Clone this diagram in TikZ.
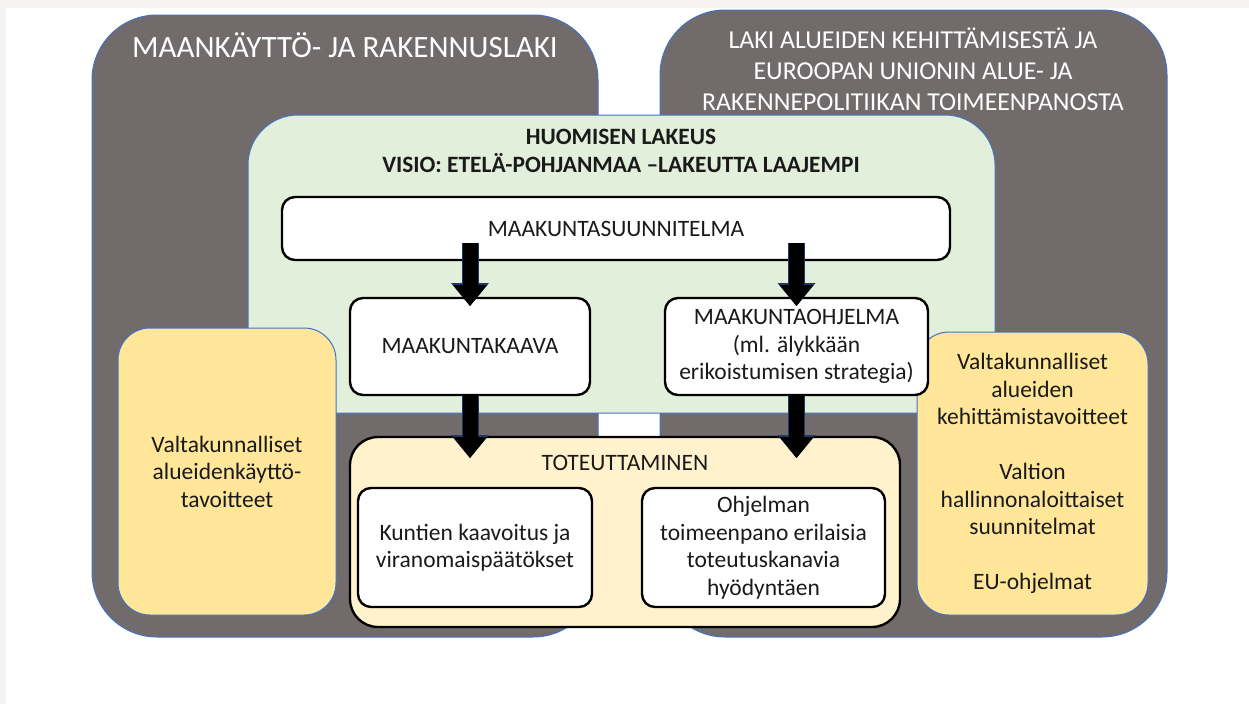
\documentclass[tikz,border=0pt]{standalone}
\usepackage{fontspec}
\setmainfont{Carlito}
\usetikzlibrary{arrows.meta}
\definecolor{lawgray}{HTML}{716C6B}
\definecolor{edgeblue}{HTML}{4472C4}
\definecolor{visiogreen}{HTML}{E2EFDA}
\definecolor{goalyellow}{HTML}{FFE699}
\definecolor{implyellow}{HTML}{FFF2CC}
\definecolor{pagestrip}{HTML}{F4F3F1}
\definecolor{arrownavy}{HTML}{1F3864}
\definecolor{textdark}{HTML}{1A1A1A}
\tikzset{
  boxbase/.style={inner sep=0pt, outer sep=0pt, align=center, text=textdark,
    font=\fontsize{23.5}{27.5}\selectfont},
  lawbox/.style={boxbase, draw=edgeblue, line width=1pt, fill=lawgray, rounded corners=65pt},
  visiobox/.style={boxbase, draw=edgeblue, line width=1pt, fill=visiogreen, rounded corners=50pt},
  goalbox/.style={boxbase, draw=edgeblue, line width=1pt, fill=goalyellow, rounded corners=32pt},
  whitebox/.style={boxbase, draw=black, line width=2.4pt, fill=white, rounded corners=13pt},
  implbox/.style={boxbase, draw=black, line width=2.4pt, fill=implyellow, rounded corners=28pt},
  lawtitle/.style={inner sep=0pt, text=white, align=center},
  plaintext/.style={inner sep=0pt, align=center, text=textdark, font=\fontsize{23.5}{27.5}\selectfont},
  bigarrow/.style={draw=black, line width=15pt,
    -{Triangle[width=34pt,length=21pt,line width=0pt]},
    preaction={draw=arrownavy, line width=17pt, -{Triangle[width=38pt,length=23pt,line width=0pt]}}},
}
\begin{document}
\begin{tikzpicture}[x=1pt,y=-1pt]
\useasboundingbox (0,0) rectangle (1249,704);
\fill[white] (0,0) rectangle (1249,704);
\fill[pagestrip] (0,0) rectangle (1249,8);
\fill[pagestrip] (0,0) rectangle (6,704);

% law containers
\node[lawbox, minimum width=506pt, minimum height=622pt] (mrl) at (345,326) {};
\node[lawbox, minimum width=507pt, minimum height=627pt] (eulaw) at (913.5,323.5) {};
\node[lawtitle, anchor=west, font=\fontsize{31}{36}\selectfont] (mrltitle) at (132,45) {MAANKÄYTTÖ- JA RAKENNUSLAKI};
\node[lawtitle, font=\fontsize{25.8}{31}\selectfont] (eulawtitle) at (913,69)
  {LAKI ALUEIDEN KEHITTÄMISESTÄ JA\\EUROOPAN UNIONIN ALUE- JA\\RAKENNEPOLITIIKAN TOIMEENPANOSTA};

% vision box
\node[visiobox, minimum width=747pt, minimum height=298pt] (visio) at (621.5,264) {};
\node[plaintext, font=\bfseries\fontsize{23.4}{28}\selectfont] (visiotitle) at (621,151)
  {HUOMISEN LAKEUS\\VISIO: ETELÄ-POHJANMAA –LAKEUTTA LAAJEMPI};

% side goal boxes
\node[goalbox, minimum width=218pt, minimum height=287pt] (natgoals) at (227,471.5)
  {Valtakunnalliset\\alueidenkäyttö-\\tavoitteet};
\node[goalbox, minimum width=231pt, minimum height=283pt] (devgoals) at (1032.5,473.5)
  {Valtakunnalliset\\alueiden\\kehittämistavoitteet\\[27.5pt]Valtion\\hallinnonaloittaiset\\suunnitelmat\\[27.5pt]EU-ohjelmat};

% plan boxes
\node[whitebox, minimum width=668pt, minimum height=63pt] (msuun) at (616,228.5) {MAAKUNTASUUNNITELMA};
\node[whitebox, minimum width=240pt, minimum height=97pt] (kaava) at (470,346.5) {MAAKUNTAKAAVA};
\node[whitebox, minimum width=263pt, minimum height=97pt] (ohjelma) at (796.5,346.5)
  {MAAKUNTAOHJELMA\\(ml. älykkään\\erikoistumisen strategia)};

% implementation
\node[implbox, minimum width=550pt, minimum height=190pt] (tot) at (625,532) {};
\node[plaintext] (tottitle) at (625,463) {TOTEUTTAMINEN};
\node[whitebox, minimum width=234pt, minimum height=119pt] (kunnat) at (475,547.5)
  {Kuntien kaavoitus ja\\viranomaispäätökset};
\node[whitebox, minimum width=243pt, minimum height=119pt] (toimeenpano) at (763.5,547.5)
  {Ohjelman\\toimeenpano erilaisia\\toteutuskanavia\\hyödyntäen};

% arrows
\draw[bigarrow] ([yshift=17pt]msuun.south -| kaava.north) -- ([yshift=-8pt]kaava.north);
\draw[bigarrow] ([yshift=17pt]msuun.south -| ohjelma.north) -- ([yshift=-8pt]ohjelma.north);
\draw[bigarrow] (kaava.south) -- ([yshift=-21pt]tot.north -| kaava.south);
\draw[bigarrow] (ohjelma.south) -- ([yshift=-21pt]tot.north -| ohjelma.south);
\end{tikzpicture}
\end{document}
